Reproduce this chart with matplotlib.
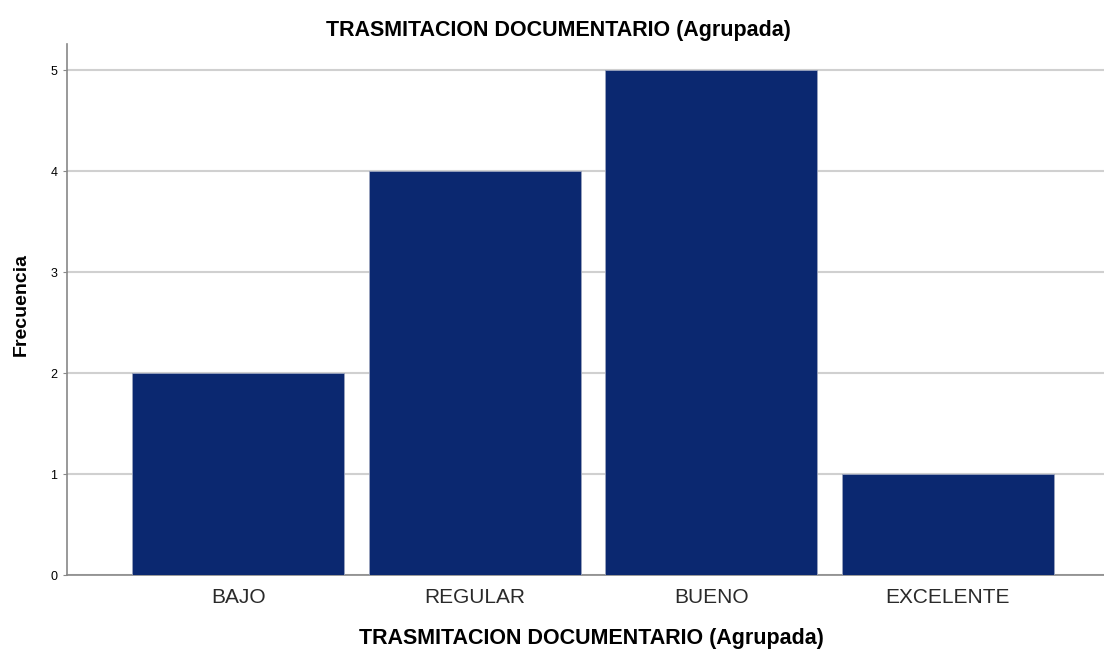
import matplotlib.pyplot as plt

plt.rcParams["font.family"] = ["Liberation Sans", "DejaVu Sans"]

categorias = ["BAJO", "REGULAR", "BUENO", "EXCELENTE"]
frecuencias = [2, 4, 5, 1]
titulo = "TRASMITACION DOCUMENTARIO (Agrupada)"

fig = plt.figure(figsize=(11.04, 6.51), dpi=100)
ax = fig.add_axes([0.0607, 0.1167, 0.9393, 0.8157])

x = list(range(len(categorias)))
ax.bar(x, frecuencias, width=0.896, color="#0B2870", edgecolor="#9aa3bd", linewidth=0.6, zorder=3)

ax.set_xlim(-0.723, 3.66)
ax.set_ylim(0, 5.26)
ax.set_yticks([0, 1, 2, 3, 4, 5])
ax.set_xticks(x)
ax.set_xticklabels(categorias, fontsize=15, color="#2a2a2a")
ax.tick_params(axis="x", length=0, pad=9)
ax.tick_params(axis="y", length=3, color="#888888", labelsize=9, pad=4)

ax.grid(axis="y", color="#d0d0d0", linewidth=1.5, zorder=0)
ax.set_axisbelow(True)
for s in ["top", "right"]:
    ax.spines[s].set_visible(False)
for s in ["left", "bottom"]:
    ax.spines[s].set_color("#888888")
    ax.spines[s].set_linewidth(1.2)

ax.set_title(titulo, fontsize=15.5, fontweight="bold", x=0.474, pad=6)
ax.set_xlabel(titulo, fontsize=15.5, fontweight="bold")
ax.xaxis.set_label_coords(0.506, -0.1)
ax.set_ylabel("Frecuencia", fontsize=14, fontweight="bold")
ax.yaxis.set_label_coords(-0.036, 0.51)

fig.savefig("out.png", dpi=100)
